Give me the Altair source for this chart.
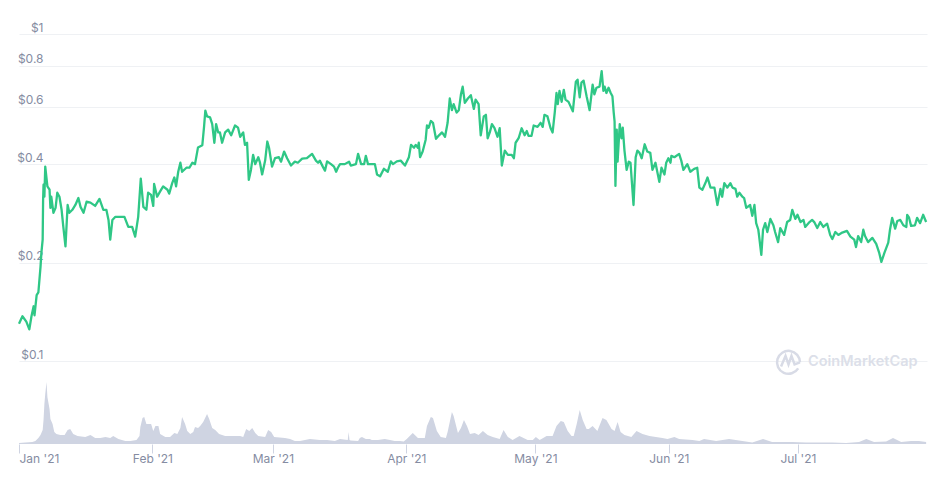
import altair as alt
import pandas as pd

price_days = [
0.0,0.8,1.7,2.4,2.9,3.4,3.6,4.1,4.5,5.0,
5.2,5.5,5.6,5.7,5.9,6.1,6.6,7.1,7.3,7.5,
8.0,8.5,8.9,9.4,9.9,10.3,10.8,11.3,11.7,12.4,
13.1,13.8,14.3,15.0,15.7,16.6,17.7,18.7,19.6,20.3,
20.8,21.2,21.7,22.4,23.3,24.5,25.4,26.3,27.0,27.7,
28.3,28.9,29.6,30.0,30.7,31.2,31.4,32.1,32.8,33.5,
34.5,34.9,35.6,36.1,36.5,37.0,37.5,37.9,38.9,39.6,
40.3,40.9,41.6,42.6,43.0,43.3,43.7,44.4,44.9,45.4,
45.8,46.3,46.7,47.2,47.9,48.6,49.3,50.2,50.9,51.4,
52.1,52.5,53.0,53.4,53.9,54.4,54.9,55.6,56.0,56.5,
57.2,57.7,58.1,58.8,59.5,60.4,60.9,61.6,62.3,63.2,
64.1,64.8,65.8,66.9,68.1,69.0,69.5,69.9,70.6,71.1,
71.6,72.5,73.2,73.7,74.1,74.6,75.7,76.7,77.1,78.3,
78.8,79.5,80.2,80.6,81.1,82.0,82.7,83.2,83.9,84.8,
85.7,86.4,86.9,87.8,88.7,89.7,90.6,91.1,91.8,92.2,
92.7,92.9,93.2,93.8,94.5,94.8,95.2,95.7,96.2,96.9,
97.6,98.3,99.0,99.6,100.1,100.6,101.0,101.7,102.2,102.7,
103.1,103.6,104.3,105.0,105.7,106.1,106.8,107.3,108.0,108.5,
108.9,109.4,109.9,110.5,111.2,111.7,112.2,112.9,113.6,114.5,
115.0,115.4,116.1,116.8,117.5,118.0,118.4,119.1,119.6,120.5,
121.2,121.7,122.1,122.8,123.5,124.0,124.5,124.9,125.2,125.6,
126.1,126.6,127.0,127.7,128.7,129.4,129.8,130.3,130.7,131.2,
131.9,132.6,133.3,133.7,134.2,134.9,135.4,135.8,136.1,136.5,
137.0,137.5,137.9,138.2,138.4,138.6,138.9,139.1,139.6,140.0,
140.3,140.7,141.2,141.7,142.1,142.8,143.3,143.7,144.2,144.7,
145.4,146.0,146.7,147.2,147.9,148.8,149.3,150.0,150.4,150.9,
151.4,151.6,152.3,153.4,153.9,154.4,155.3,156.0,156.9,157.6,
158.1,158.8,159.5,160.0,160.7,161.6,162.3,163.0,163.4,163.9,
164.6,165.3,165.8,166.5,166.9,167.4,168.1,168.5,169.0,169.9,
170.4,170.9,171.3,171.8,172.0,172.5,172.9,173.4,173.9,174.6,
175.3,175.7,176.4,176.9,177.8,178.5,179.2,179.7,180.4,180.9,
181.6,182.3,182.7,183.7,184.3,184.8,185.5,186.2,186.9,187.8,
188.5,189.0,189.7,190.4,191.3,192.4,193.2,194.1,194.5,195.0,
195.7,196.2,196.6,197.3,198.3,199.2,199.9,200.4,201.1,202.0,
202.4,202.9,203.6,204.1,204.8,205.5,206.2,206.4,206.8,207.3,
208.2,208.7,209.4,210.1,210.8,
]
prices = [
.130,.137,.132,.125,.137,.147,.138,.159,.162,.194,
.214,.235,.310,.346,.318,.393,.342,.334,.294,.318,
.284,.294,.327,.318,.290,.257,.224,.300,.284,.290,
.300,.315,.296,.284,.307,.305,.298,.313,.290,.290,
.270,.235,.270,.276,.276,.276,.257,.257,.240,.276,
.361,.296,.290,.327,.322,.298,.348,.318,.330,.342,
.334,.325,.350,.364,.342,.379,.404,.379,.390,.390,
.404,.400,.450,.457,.520,.583,.560,.556,.530,.465,
.530,.500,.500,.465,.500,.510,.490,.525,.517,.485,
.500,.458,.465,.358,.384,.427,.400,.420,.404,.372,
.410,.469,.449,.393,.417,.420,.407,.437,.417,.396,
.407,.404,.416,.417,.430,.410,.404,.410,.393,.382,
.408,.400,.393,.379,.390,.400,.400,.407,.396,.400,
.430,.400,.400,.424,.400,.400,.400,.372,.367,.387,
.379,.408,.400,.408,.410,.396,.420,.458,.449,.458,
.449,.465,.420,.437,.475,.525,.517,.542,.535,.478,
.490,.500,.485,.535,.635,.585,.610,.575,.585,.654,
.690,.616,.635,.650,.590,.630,.610,.490,.560,.566,
.480,.500,.530,.515,.485,.515,.396,.440,.427,.427,
.417,.465,.480,.515,.490,.505,.488,.488,.525,.520,
.535,.520,.566,.560,.517,.500,.576,.660,.610,.670,
.620,.675,.630,.620,.580,.715,.725,.640,.710,.720,
.645,.585,.700,.654,.685,.690,.770,.670,.690,.660,
.685,.660,.645,.575,.540,.343,.510,.407,.530,.480,
.517,.440,.384,.407,.404,.300,.420,.440,.433,.417,
.460,.437,.433,.384,.404,.353,.390,.372,.404,.417,
.404,.424,.420,.430,.410,.384,.400,.379,.387,.390,
.339,.334,.350,.364,.339,.339,.300,.336,.318,.350,
.339,.350,.339,.336,.318,.327,.318,.315,.294,.300,
.278,.300,.264,.252,.240,.211,.252,.264,.248,.272,
.260,.248,.231,.255,.243,.266,.270,.290,.272,.280,
.266,.270,.257,.266,.270,.266,.255,.266,.257,.263,
.243,.236,.248,.243,.247,.250,.240,.235,.223,.241,
.231,.252,.241,.231,.238,.228,.214,.201,.214,.230,
.252,.274,.254,.268,.270,.260,.257,.280,.275,.259,
.260,.274,.264,.280,.266,
]
volume_days = [
0.0,1.5,3.1,3.8,4.5,5.0,5.5,5.7,5.9,6.1,
6.4,6.6,7.1,7.3,7.8,8.2,8.7,9.6,10.6,11.3,
11.9,12.6,13.6,15.4,16.6,17.7,18.9,20.1,21.2,21.9,
23.1,24.7,25.9,27.3,28.0,28.2,28.7,29.1,29.6,30.0,
30.7,31.2,31.7,32.4,32.8,34.0,35.1,36.1,36.8,37.5,
37.9,38.6,39.1,39.8,40.5,40.9,41.6,42.1,42.8,43.7,
44.2,44.9,45.6,46.5,47.9,50.2,51.4,52.1,52.8,53.5,
54.2,54.9,55.6,57.2,57.9,58.6,59.3,61.8,63.0,64.1,
65.3,67.6,69.9,71.6,73.4,74.6,76.4,76.6,76.8,77.1,
78.8,79.2,79.7,80.6,81.5,82.0,83.4,85.0,86.2,87.3,
88.5,89.4,90.1,91.5,92.7,94.3,94.8,95.7,96.2,97.1,
98.0,99.2,99.6,100.6,101.0,102.0,102.7,103.4,104.1,104.8,
105.9,106.8,107.8,108.9,110.1,111.7,112.6,113.6,114.7,116.3,
118.2,119.4,120.1,121.0,122.6,124.0,124.9,125.9,126.6,127.5,
128.4,128.9,129.6,130.3,131.0,131.9,132.4,133.3,134.4,135.6,
136.5,137.7,138.4,139.1,139.8,140.7,142.3,143.5,144.9,146.5,
149.5,150.7,152.3,153.4,156.5,158.1,159.2,162.0,165.0,168.1,
170.4,172.9,175.0,179.7,182.9,189.0,192.2,195.2,196.9,198.7,
201.5,203.1,205.0,207.3,209.1,210.8,
]
volumes = [
1,1.5,2,3,6,9,14,24,40,50,
62,47,35,25,20,12,10,9,9,14,
15,10,8,7,9,6,6,7,6,8,
5,3,3,4,8,17,26,27,20,20,
20,13,18,18,10,7,7,11,10,16,
27,20,13,10,12,17,16,18,22,30,
25,16,14,10,8,8,8,7,15,13,
16,11,8,7,14,12,7,6,5,3,
3,5,4,4,3,5,4,12,4,3.5,
3,6,7,5,5,4,4,5,4,3,
3,2.5,5,11,6,6,18,27,26,13,
7,6,12,32,28,11,16,24,18,10,
11,9,13,9,7,5,14,7,4,8,
4,4,7,4,8,8,18,23,22,13,
8,8,20,34,24,15,15,18,13,26,
24,15,13,22,12,9,7,13,10,8,
6,5,7,5,4,3,5,3,5,3,
1.5,5,2,2,1.5,1.5,1,2,5,2,
2.5,6,2,3,3,2,
]
y_ticks = [0.1, 0.2, 0.4, 0.6, 0.8, 1]
month_starts = ["2021-01-01", "2021-02-01", "2021-03-01", "2021-04-01",
                "2021-05-01", "2021-06-01", "2021-07-01"]

START = pd.Timestamp("2021-01-01", tz="UTC")
END = START + pd.Timedelta(days=211)


def stamps(days):
    return [(START + pd.Timedelta(days=d)).isoformat() for d in days]


price_df = pd.DataFrame({"date": stamps(price_days), "price": prices})
volume_df = pd.DataFrame({"date": stamps(volume_days), "volume": volumes})

x_scale = alt.Scale(type="utc", domain=[START.isoformat(), END.isoformat()])
tick_values = [int(pd.Timestamp(d, tz="UTC").timestamp() * 1000) for d in month_starts]
LABEL = "#858ca2"
FONT = "Inter"

x_axis = alt.Axis(
    values=tick_values, labelExpr="utcFormat(datum.value, \"%b '%y\")", grid=False, domain=False,
    ticks=True, tickColor="#cfd4e2", tickSize=9, labelFlush=True, labelColor=LABEL,
    labelFont=FONT, labelFontSize=12, labelPadding=0, title=None)

volume = alt.Chart(volume_df).mark_area(color="#cfd4e2", opacity=1).encode(
    x=alt.X("date:T", scale=x_scale, axis=x_axis),
    y=alt.Y("volume:Q", scale=alt.Scale(domain=[0, 424], range=[424, 0]), axis=None),
)
price = alt.Chart(price_df).mark_line(color="#2fc786", strokeWidth=2.3, strokeJoin="round").encode(
    x=alt.X("date:T", scale=x_scale, axis=x_axis),
    y=alt.Y("price:Q", title=None, scale=alt.Scale(type="log", domain=[0.1, 1], range=[341, 14]),
            axis=alt.Axis(
                values=y_ticks, labelExpr="'$' + datum.value", domain=False, ticks=False,
                gridColor="#eff1f4", grid=True, labelColor=LABEL, labelFont=FONT, labelFontSize=12,
                labelAlign="right", labelBaseline="bottom", labelPadding=-24, labelBound=False)),
)
logo_ring = alt.Chart(pd.DataFrame({"a": [1]})).mark_point(
    shape="M 0.72 0.55 A 0.85 0.85 0 1 1 0.85 0.1 M -0.55 0.4 L -0.22 -0.38 L 0 0.25 L 0.22 -0.38 L 0.45 0.25 L 0.85 0.1",
    size=729, filled=False, strokeWidth=2.5, color="#d8dbe6", opacity=1,
).encode(x=alt.value(769.5), y=alt.value(341))
logo_text = alt.Chart(pd.DataFrame({"t": ["CoinMarketCap"]})).mark_text(
    align="left", baseline="middle", color="#dcdfe9", font=FONT, fontSize=14.5, fontWeight=600,
).encode(x=alt.value(789), y=alt.value(342), text="t:N")

chart = alt.layer(volume, price, logo_ring, logo_text).resolve_scale(y="independent").properties(
    width=908, height=424,
    autosize=alt.AutoSizeParams(type="none"),
    padding={"left": 11, "top": 12, "right": 4, "bottom": 26},
).configure_view(stroke=None)

chart.save("out.html", embed_options={"renderer": "svg", "actions": False})
